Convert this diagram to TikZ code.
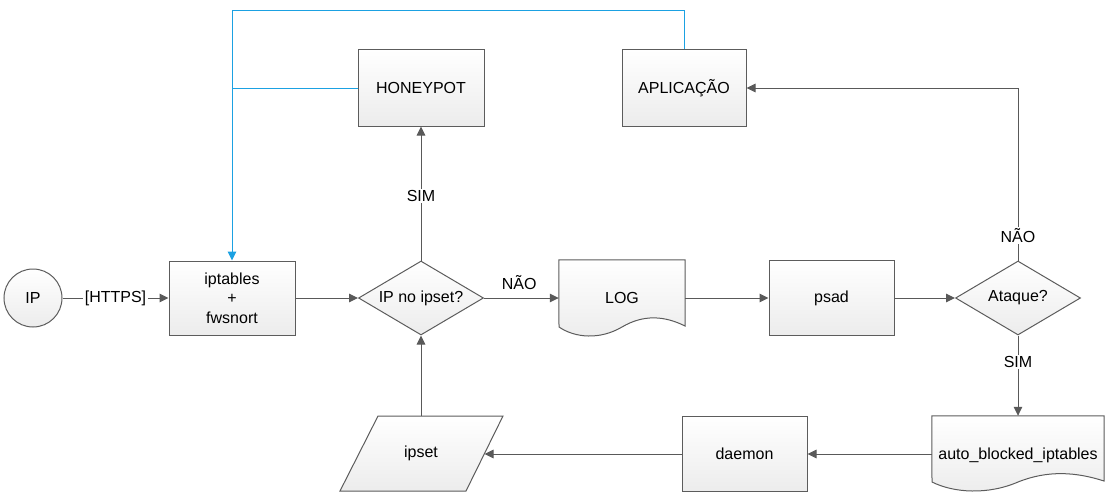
\documentclass[tikz,border=0pt]{standalone}
\usepackage{fontspec}
\setmainfont{Liberation Sans}
\usetikzlibrary{arrows.meta,calc,shapes.geometric}
\definecolor{edgec}{HTML}{5C5C5C}
\definecolor{linec}{HTML}{595959}
\definecolor{bluec}{HTML}{1BA1E2}
\definecolor{fillb}{HTML}{ECECEC}
\begin{document}
\begin{tikzpicture}[x=1pt,y=-1pt,
  every node/.style={font=\fontsize{16}{19.5}\selectfont, text=black},
  shapefill/.style={draw=edgec, line width=1pt, top color=white, bottom color=fillb},
  box/.style={shapefill, rectangle, minimum width=125pt, minimum height=75pt, inner sep=0pt, align=center},
  dec/.style={shapefill, diamond, aspect=1.68, minimum width=125pt, minimum height=74pt, inner sep=0pt},
  txt/.style={rectangle, inner sep=0pt, align=center},
  circ/.style={shapefill, circle, minimum size=58pt, inner sep=0pt},
  arr/.style={draw=linec, line width=1pt, -{Triangle[length=9pt,width=8.5pt]}},
  ln/.style={draw=linec, line width=1pt},
  bl/.style={draw=bluec, line width=1pt},
  blarr/.style={bl, -{Triangle[length=9pt,width=8.5pt]}},
  lbl/.style={fill=white, inner sep=1.5pt, text=black}
]
\useasboundingbox (0,0) rectangle (1108,495);

% nodes
\node[circ] (ip) at (33,298) {IP};
\node[box, minimum height=74pt, minimum width=126pt] (ipt) at (232,298) {iptables\\+\\fwsnort};
\node[dec] (q1) at (421,298) {IP no ipset?};
\node[box, minimum width=126pt, minimum height=76pt] (hp) at (421,88) {HONEYPOT};
\node[box, minimum width=124pt, minimum height=76pt] (app) at (684,88) {APLICA\c{C}\~{A}O};
\node[box] (psad) at (831.5,298) {psad};
\node[dec] (q2) at (1018,298) {Ataque?};
\node[box] (dmn) at (744.5,453.5) {daemon};

% LOG document shape
\node[txt, minimum width=126pt, minimum height=76pt] (log) at (622,298) {};
\path[shapefill] (log.north west) -- (log.north east) -- (685,326)
  .. controls (665,316) and (644,314) .. (622,327)
  .. controls (600,340) and (575,338) .. (559,327) -- cycle;
\node at (log.center) {LOG};

% auto_blocked document shape
\node[txt, minimum width=172pt, minimum height=74pt] (ab) at (1018,453) {};
\path[shapefill] (ab.north west) -- (ab.north east) -- (1104,481)
  .. controls (1076,472) and (1048,470) .. (1018,482)
  .. controls (988,495) and (954,493) .. (932,482) -- cycle;
\node at ($(ab.center)+(0,2)$) {auto\_blocked\_iptables};

% ipset parallelogram
\node[txt, minimum width=126pt, minimum height=75pt] (ips) at (421,453.5) {};
\path[shapefill] (378,416) -- (503,416) -- (466,491) -- (340,491) -- cycle;
\node at (ips.center) {ipset};
\coordinate (ipsR) at (484.5,454);
\coordinate (ipsT) at (421,416);

% connectors
\draw[arr] (ip) -- node[lbl, midway] {[HTTPS]} (ipt);
\draw[arr] (ipt) -- (q1);
\draw[arr] (q1) -- node[pos=0.47, yshift=15pt] {N\~{A}O} (log.west);
\draw[arr] (q1.north) -- node[lbl, pos=0.48] {SIM} (hp.south);
\draw[arr] (log.east) -- (psad);
\draw[arr] (psad) -- (q2);
\draw[arr] (q2.north) |- node[lbl, pos=0.072] {N\~{A}O} (app.east);
\draw[arr] (q2.south) -- node[lbl, pos=0.33] {SIM} (ab.north);
\coordinate (abW) at (932,454);
\draw[arr] (abW) -- (dmn.east |- abW);
\draw[arr] (dmn.west |- ipsR) -- (ipsR);
\draw[arr] (ipsT) -- (q1.south);

% blue feedback
\coordinate (topy) at (684,11);
\draw[blarr] (app.north) -- (topy) -| (ipt.north);
\draw[bl] (hp.west) -- (hp.west -| ipt.north);
\end{tikzpicture}
\end{document}
